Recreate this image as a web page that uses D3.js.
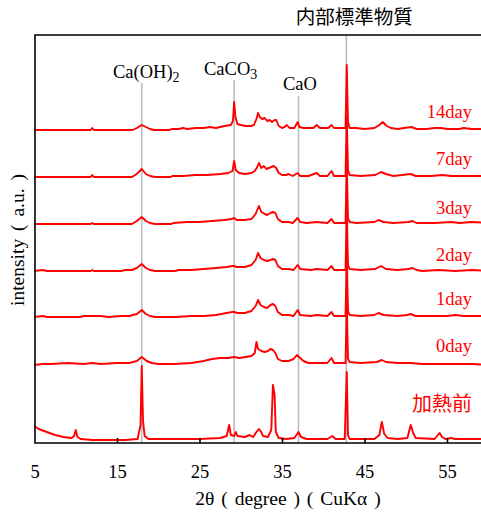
<!DOCTYPE html>
<html>
<head>
<meta charset="utf-8">
<script src="https://cdn.jsdelivr.net/npm/d3@7"></script>
<style>
  body { margin: 0; background: #fff; }
  svg text { font-family: "Liberation Serif", "Times New Roman", serif; }
  svg text.jp { font-family: "Noto Sans CJK JP", "Noto Sans", sans-serif; }
</style>
</head>
<body>
<div id="app"></div>
<script>
// sample names (top to bottom) and their vertical offsets (a.u.)
const sampleNames = ["14day", "7day", "3day", "2day", "1day", "0day", "加熱前"];
const sampleOffsets = [313, 266, 219, 172, 126, 78, 3];

// reference peak positions (2θ) and their names
const refPeaks = [18.0, 29.2, 37.0, 42.8];
const refNames = ["Ca(OH)2", "CaCO3", "CaO", "内部標準物質"];

const xTicks = [5, 15, 25, 35, 45, 55];

// diffraction patterns: [2θ, intensity above own baseline]
const day14 = [[5,0],[8,0],[11.8,0],[12,2],[12.2,0],[16.9,0],[17.4,2],[18,5],[18.5,3],[19,1],[19.5,0],[21.4,0],[21.6,1],[22.5,1],[23,2],[23.5,1],[24.5,2],[25.5,2],[26.3,3],[27,2],[28,4],[28.8,5],[29.05,9],[29.2,28],[29.35,13],[29.6,6],[30,5],[30.6,4],[31.2,4],[31.6,5],[31.9,11],[32.1,17],[32.3,13],[32.6,11],[32.9,12],[33.2,9],[33.5,10],[33.8,8],[34.1,10],[34.3,10],[34.6,4],[35,2],[35.3,3],[35.6,5],[35.9,2],[36.5,2],[36.9,8],[37.1,3],[37.6,2],[38.2,2],[38.8,2],[39.2,5],[39.6,2],[40.2,2],[40.6,2],[41.0,5],[41.3,2],[42.2,2],[42.7,2],[42.85,65],[43.0,8],[43.2,2],[44,2],[45,1],[46.2,2],[46.8,5],[47.2,8],[47.7,4],[48.2,2],[49,1],[49.8,2],[50.7,3],[51.3,1],[52.5,1],[53.5,2],[54.3,2],[55,1],[56.5,1],[57,2],[58,1],[60,1]];
const day7 = [[5,0],[11.8,0],[12,2],[12.2,0],[16.8,0],[17.4,3],[18,8],[18.5,3],[19,1],[19.6,0],[21.5,0],[21.7,1],[23,1],[24.5,2],[26,2],[27.5,3],[28.5,4],[29.0,6],[29.2,16],[29.4,7],[29.8,4],[30.5,3],[31.3,4],[31.7,6],[32.0,10],[32.2,14],[32.5,9],[32.8,11],[33.1,8],[33.4,9],[33.7,10],[34.0,11],[34.3,9],[34.6,4],[35,2],[35.5,2],[35.8,3],[36.3,1],[36.9,4],[37.2,1],[38.2,1],[39.2,4],[39.6,1],[40.5,1],[41.0,6],[41.3,1],[42.7,1],[42.85,60],[43.0,7],[43.2,2],[44.5,1],[46.3,2],[47.0,5],[47.6,3],[48.5,1],[50.6,3],[51.2,1],[53,1],[54.5,2],[55.5,1],[57,1],[60,1]];
const day3 = [[5,0],[11.8,0],[12,1],[12.2,0],[16.8,0],[17.4,3],[18,7],[18.5,3],[19,1],[19.6,0],[21.6,0],[21.8,1],[23.5,2],[25,2],[26.5,3],[28,4],[28.9,5],[29.2,6],[29.5,4],[30.5,4],[31.3,5],[31.8,10],[32.2,18],[32.5,12],[32.9,10],[33.2,9],[33.6,11],[33.9,12],[34.2,11],[34.5,5],[35,2],[35.8,2],[36.3,1],[36.9,6],[37.2,2],[38,1],[39.2,2],[40.5,1],[41.0,5],[41.3,1],[42.7,1],[42.85,60],[43.0,6],[43.2,2],[44,1],[46.2,2],[46.7,4],[47.3,2],[48.5,1],[50.3,2],[50.8,3],[51.3,1],[53.5,1],[55.5,2],[56.5,1],[58,2],[60,1]];
const day2 = [[5,0],[6,1],[6.5,0],[11.8,0],[12,1],[12.2,0],[15.5,0],[16,1],[16.8,1],[17.4,3],[18,7],[18.5,3],[19,1],[19.6,0],[22,0],[22.5,1],[24,1],[25.5,2],[27,3],[28.3,4],[29.0,5],[29.2,5],[29.5,4],[30.5,4],[31.3,6],[31.8,11],[32.1,18],[32.4,13],[32.8,11],[33.2,10],[33.6,11],[33.9,12],[34.2,11],[34.5,5],[35,2],[35.8,2],[36.4,1],[36.9,6],[37.2,2],[38.5,1],[39.2,2],[40.5,1],[41.0,5],[41.3,1],[42.7,1],[42.85,62],[43.0,6],[43.2,2],[44.5,1],[46.3,2],[47.0,5],[47.6,2],[49,1],[50.3,2],[50.8,3],[51.3,1],[52,0],[54,1],[56,0],[58,1],[60,0]];
const day1 = [[5,0],[6,1],[6.5,0],[10.5,0],[11,1],[13,1],[14,0],[15.5,1],[16.5,1],[17.4,3],[18,7],[18.5,3],[19,1],[19.6,0],[22,0],[24,1],[25.5,1],[27,2],[28.3,4],[29.0,5],[29.2,5],[29.6,4],[30.5,4],[31.3,6],[31.8,11],[32.1,17],[32.4,12],[32.8,10],[33.2,9],[33.6,12],[33.9,13],[34.2,11],[34.5,5],[35,2],[35.8,2],[36.4,1],[36.9,7],[37.2,2],[38.5,1],[39.2,2],[40.5,1],[41.0,5],[41.3,1],[42.7,1],[42.85,62],[43.0,6],[43.2,2],[44.5,1],[46.2,2],[46.7,4],[47.3,2],[49,1],[50.2,2],[50.6,3],[51.2,1],[53,1],[55,1],[56,2],[57,1],[60,1]];
const day0 = [[5,0],[6,1],[7,1],[9,2],[11,1],[12,2],[13,1],[15,2],[16.5,2],[17.4,4],[18,8],[18.6,4],[19.2,2],[20,1],[22,1],[24,2],[25.5,4],[26.5,6],[27.5,7],[28.5,7],[29.2,8],[29.8,7],[30.6,8],[31.3,9],[31.7,12],[31.9,23],[32.1,16],[32.5,14],[32.9,13],[33.3,14],[33.6,16],[33.9,15],[34.2,12],[34.5,6],[35,4],[35.8,4],[36.4,6],[36.8,10],[37.2,7],[37.6,4],[38.2,2],[39.2,2],[40.5,2],[41.0,7],[41.3,2],[42.7,2],[42.85,62],[43.0,6],[43.2,3],[44.5,2],[46.5,3],[47.1,5],[47.6,3],[49,2],[50.6,2],[52,1],[54,1],[56,1],[58,1],[60,0]];
const unheated = [[5,14],[5.5,11],[6.5,8],[7.5,5],[8.5,3],[9.5,2],[9.8,4],[10.0,10],[10.2,3],[10.6,1],[12,0],[14,0],[16,0],[17.5,1],[17.85,15],[18.0,74],[18.15,20],[18.35,4],[18.8,1],[22,1],[25,1],[27.5,2],[28.3,4],[28.6,15],[28.8,5],[29.2,4],[29.4,8],[29.6,4],[30.5,3],[31.1,5],[31.5,3],[31.9,8],[32.2,11],[32.4,9],[32.7,4],[33.3,3],[33.7,10],[33.9,55],[34.1,45],[34.25,8],[34.6,2],[35.5,1],[36.5,2],[37.0,8],[37.3,3],[38,1],[40.5,1],[41.1,4],[41.5,1],[42.6,1],[42.85,68],[43.0,5],[43.2,1],[46.2,1],[46.8,5],[47.1,18],[47.4,6],[47.8,2],[49,1],[50.2,2],[50.6,15],[50.9,7],[51.2,2],[53.5,1],[54.1,7],[54.4,3],[54.8,1],[55.5,2],[56,1],[60,1]];

const patterns = [day14, day7, day3, day2, day1, day0, unheated];

const width = 481,
      height = 515,
      plotLeft = 35, plotTop = 35, plotBottom = 443;

const x = d3.scaleLinear().domain([5, 60]).range([34.5, 34.5 + 55 * 8.25]);
const y = d3.scaleLinear().domain([0, 408]).range([plotBottom, plotTop]);

const svg = d3.select("#app").append("svg")
    .attr("width", width)
    .attr("height", height);

// reference lines sit behind the traces
const refTops = [83, 80, 96, plotTop];
svg.append("g").selectAll("line")
    .data(refPeaks)
    .join("line")
    .attr("x1", d => x(d)).attr("x2", d => x(d))
    .attr("y1", (d, i) => refTops[i])
    .attr("y2", plotBottom)
    .attr("stroke", "#bdbdbd")
    .attr("stroke-width", 1.6);

// traces
const line = d3.line()
    .x(d => x(d[0]))
    .y(d => y(d[1]));

svg.append("g").selectAll("path")
    .data(patterns)
    .join("path")
    .attr("d", (d, i) => line(d.map(p => [p[0], p[1] + sampleOffsets[i]])))
    .attr("fill", "none")
    .attr("stroke", "#ff0000")
    .attr("stroke-width", 1.9)
    .attr("stroke-linejoin", "round");

// frame
svg.append("path")
    .attr("d", `M${width + 10},${plotTop}H${plotLeft}V${plotBottom}H${width + 10}`)
    .attr("stroke", "#000").attr("stroke-width", 1.6).attr("fill", "none");

// x axis: inward ticks, labels below
const xAxis = d3.axisBottom(x)
    .tickValues(xTicks)
    .tickSize(0)
    .tickPadding(22)
    .tickFormat(d3.format("d"));

const gx = svg.append("g")
    .attr("transform", `translate(0,${plotBottom})`)
    .call(xAxis);
gx.select(".domain").remove();
gx.selectAll("text")
    .attr("font-family", "Liberation Serif")
    .attr("font-size", 18.5)
    .attr("fill", "#000");
gx.selectAll(".tick").filter(d => d !== 5)
    .append("line")
    .attr("y1", 0).attr("y2", -5)
    .attr("stroke", "#000").attr("stroke-width", 1.6);

svg.append("text")
    .attr("x", 288).attr("y", 505)
    .attr("text-anchor", "middle")
    .attr("font-size", 19.5)
    .attr("word-spacing", 2)
    .text("2θ ( degree ) ( CuKα )");

svg.append("text")
    .attr("transform", "translate(24,240) rotate(-90)")
    .attr("text-anchor", "middle")
    .attr("font-size", 19.5)
    .attr("word-spacing", 3)
    .text("intensity ( a.u. )");

// sample labels
const labelY = [118, 165, 214, 261, 305, 352, 411];
svg.append("g").selectAll("text")
    .data(sampleNames)
    .join("text")
    .attr("class", (d, i) => i === 6 ? "jp" : null)
    .attr("x", 472)
    .attr("y", (d, i) => labelY[i])
    .attr("text-anchor", "end")
    .attr("font-size", (d, i) => i === 6 ? 20 : 18.5)
    .attr("fill", "#ff0000")
    .text(d => d);

// reference labels
const chem = svg.append("g").attr("font-size", 18.5);
const chemX = [113, 204, 283];
const chemY = [78, 75, 90];
refNames.slice(0, 3).forEach((name, i) => {
    const t = chem.append("text").attr("x", chemX[i]).attr("y", chemY[i]);
    const m = name.match(/^(.*?)(\d)$/);
    if (m) {
        t.append("tspan").text(m[1]);
        t.append("tspan").attr("font-size", 14).attr("dy", 4).text(m[2]);
    } else {
        t.text(name);
    }
});

svg.append("text")
    .attr("class", "jp")
    .attr("x", x(refPeaks[3]) + 8)
    .attr("y", 24)
    .attr("text-anchor", "middle")
    .attr("font-size", 19.5)
    .text(refNames[3]);
</script>
</body>
</html>
